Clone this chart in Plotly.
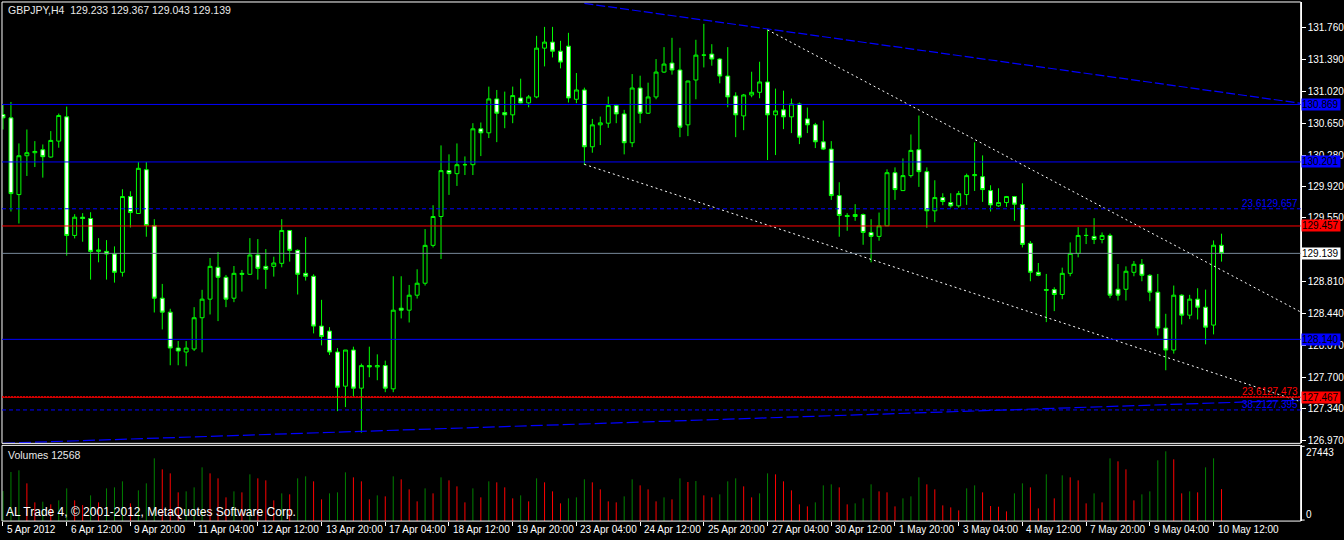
import plotly.graph_objects as go

# ---------------- data ----------------
symbol = "GBPJPY,H4"
tick_idx = list(range(0, 153, 8))
tick_labels = ["5 Apr 2012", "6 Apr 12:00", "9 Apr 20:00", "11 Apr 04:00", "12 Apr 12:00",
               "13 Apr 20:00", "17 Apr 04:00", "18 Apr 12:00", "19 Apr 20:00", "23 Apr 04:00",
               "24 Apr 12:00", "25 Apr 20:00", "27 Apr 04:00", "30 Apr 12:00", "1 May 20:00",
               "3 May 04:00", "4 May 12:00", "7 May 20:00", "9 May 04:00", "10 May 12:00"]

opens = [130.752, 130.713, 129.822, 130.273, 130.308, 130.343, 130.258, 130.443, 130.725, 129.347,
         129.559, 129.544, 129.162, 129.162, 129.131, 128.919, 129.799, 129.602, 130.111, 129.463,
         128.618, 128.456, 128.039, 127.993, 128.028, 128.391, 128.607, 128.977, 128.861, 128.618,
         128.907, 128.896, 129.120, 128.988, 128.988, 129.023, 129.405, 129.174, 128.907, 128.873,
         128.294, 128.236, 127.993, 127.596, 128.016, 127.573, 127.835, 127.820, 127.835, 127.565,
         128.502, 128.479, 128.653, 128.792, 129.232, 129.567, 130.100, 130.065, 130.169, 130.169,
         130.586, 130.539, 130.933, 130.775, 130.748, 130.944, 130.887, 130.956, 131.523, 131.593,
         131.488, 131.546, 130.929, 131.037, 130.377, 130.632, 130.651, 130.856, 130.759, 130.424,
         131.060, 130.767, 130.956, 131.245, 131.350, 131.269, 130.632, 131.153, 131.442, 131.454,
         131.396, 131.199, 130.968, 130.736, 130.979, 131.010, 131.130, 130.748, 130.806, 130.725,
         130.875, 130.701, 130.632, 130.435, 130.350, 129.810, 129.579, 129.567, 129.590, 129.382,
         129.336, 129.459, 130.076, 129.868, 130.042, 130.343, 130.088, 129.633, 129.787, 129.729,
         129.691, 129.822, 130.042, 130.030, 129.868, 129.691, 129.729, 129.799, 129.706, 129.255,
         128.919, 128.718, 128.718, 128.661, 128.907, 129.139, 129.347, 129.336, 129.301, 129.347,
         128.722, 128.722, 128.919, 129.012, 128.884, 128.688, 128.271, 128.016, 128.653, 128.421,
         128.607, 128.514, 128.306, 129.233]
highs = [130.867, 130.898, 130.416, 130.578, 130.443, 130.404, 130.559, 130.763, 130.844, 129.594,
         129.606, 129.617, 129.316, 129.293, 129.220, 129.884, 129.860, 130.200, 130.200, 129.536,
         128.784, 128.495, 128.120, 128.120, 128.514, 128.715, 129.085, 129.154, 128.888, 128.992,
         128.946, 129.316, 129.305, 129.189, 129.100, 129.536, 129.405, 129.185, 129.328, 128.896,
         128.599, 128.282, 128.039, 128.016, 128.055, 127.858, 128.055, 127.966, 127.893, 128.873,
         128.873, 128.772, 128.954, 129.421, 129.698, 130.393, 130.289, 130.416, 130.265, 130.651,
         130.659, 131.076, 131.037, 131.018, 131.076, 131.168, 130.979, 131.666, 131.770, 131.770,
         131.608, 131.701, 131.234, 131.064, 130.701, 130.728, 130.960, 130.875, 130.806, 131.222,
         131.203, 131.122, 131.396, 131.535, 131.643, 131.527, 131.145, 131.620, 131.805, 131.569,
         131.407, 131.535, 131.010, 130.991, 131.249, 131.365, 131.735, 131.053, 131.029, 130.937,
         130.891, 130.833, 130.655, 130.682, 130.443, 129.965, 129.606, 129.710, 129.602, 129.536,
         129.613, 130.115, 130.138, 130.242, 130.520, 130.740, 130.138, 129.988, 129.837, 129.837,
         129.864, 130.065, 130.428, 130.277, 129.930, 129.895, 129.806, 129.806, 129.953, 129.282,
         129.027, 128.900, 128.745, 128.973, 129.266, 129.444, 129.432, 129.548, 129.382, 129.370,
         129.015, 128.988, 129.050, 129.073, 128.896, 128.900, 128.437, 128.765, 128.664, 128.657,
         128.734, 128.718, 129.289, 129.367]
lows = [130.578, 129.625, 129.486, 130.038, 130.142, 130.019, 130.250, 130.366, 129.112, 129.313,
        129.274, 128.834, 129.035, 128.834, 128.799, 128.869, 129.440, 129.600, 129.332, 128.452,
        128.255, 127.839, 127.839, 127.827, 128.005, 127.989, 128.429, 128.352, 128.514, 128.572,
        128.695, 128.888, 128.834, 128.726, 128.869, 128.977, 129.043, 128.661, 128.823, 128.209,
        128.070, 127.958, 127.306, 127.353, 127.476, 127.056, 127.700, 127.665, 127.526, 127.526,
        128.383, 128.336, 128.614, 128.765, 129.208, 129.073, 129.818, 129.922, 130.049, 130.049,
        130.269, 130.478, 130.431, 130.593, 130.651, 130.883, 130.836, 130.941, 131.311, 131.415,
        131.288, 130.891, 130.883, 130.165, 130.308, 130.397, 130.597, 130.651, 130.289, 130.373,
        130.651, 130.759, 130.929, 131.234, 131.215, 130.489, 130.501, 130.929, 131.299, 131.319,
        131.114, 130.836, 130.489, 130.570, 130.952, 130.941, 130.223, 130.281, 130.582, 130.536,
        130.408, 130.536, 130.362, 130.339, 129.760, 129.332, 129.401, 129.517, 129.239, 129.035,
        129.286, 129.459, 129.760, 129.868, 130.019, 129.911, 129.436, 129.502, 129.698, 129.671,
        129.671, 129.702, 129.864, 129.737, 129.625, 129.679, 129.679, 129.517, 129.208, 128.815,
        128.873, 128.340, 128.468, 128.607, 128.873, 129.093, 129.247, 129.247, 129.255, 128.618,
        128.591, 128.591, 128.873, 128.815, 128.583, 128.186, 127.781, 127.974, 128.313, 128.375,
        128.371, 128.082, 128.198, 129.043]
closes = [130.713, 129.833, 130.273, 130.308, 130.323, 130.262, 130.451, 130.740, 129.347, 129.559,
          129.544, 129.162, 129.178, 129.131, 128.919, 129.799, 129.613, 130.127, 129.463, 128.618,
          128.456, 128.039, 128.005, 128.039, 128.391, 128.607, 128.988, 128.861, 128.607, 128.907,
          128.896, 129.120, 128.965, 128.954, 129.027, 129.405, 129.174, 128.896, 128.873, 128.294,
          128.174, 127.993, 127.584, 128.016, 127.573, 127.835, 127.820, 127.835, 127.573, 128.479,
          128.479, 128.653, 128.792, 129.232, 129.567, 130.100, 130.065, 130.169, 130.169, 130.586,
          130.539, 130.933, 130.767, 130.748, 130.972, 130.887, 130.956, 131.523, 131.593, 131.488,
          131.361, 130.944, 131.037, 130.377, 130.632, 130.655, 130.856, 130.759, 130.424, 131.060,
          130.767, 130.956, 131.245, 131.338, 131.269, 130.605, 131.141, 131.442, 131.442, 131.396,
          131.199, 130.956, 130.748, 130.979, 131.010, 131.130, 130.748, 130.794, 130.725, 130.875,
          130.489, 130.632, 130.435, 130.350, 129.810, 129.579, 129.567, 129.590, 129.382, 129.336,
          129.459, 130.076, 129.880, 130.042, 130.335, 130.088, 129.633, 129.787, 129.741, 129.691,
          129.833, 130.042, 130.053, 129.880, 129.702, 129.729, 129.799, 129.710, 129.243, 128.919,
          128.884, 128.711, 128.661, 128.907, 129.139, 129.347, 129.347, 129.301, 129.347, 128.653,
          128.653, 128.931, 129.012, 128.884, 128.688, 128.271, 128.016, 128.653, 128.421, 128.607,
          128.514, 128.282, 129.233, 129.139]
volumes = [11817, 19301, 19958, 14837, 7353, 7615, 6565, 8141, 12867, 8141,
           6302, 10110, 7353, 12867, 13261, 15625, 6959, 12080, 14837, 24684,
           20352, 18776, 11292, 11686, 13261, 21139, 18776, 16806, 9322, 11686,
           11292, 18382, 16806, 16019, 8141, 10898, 10504, 16806, 17594, 15625,
           8535, 10898, 11292, 19170, 17200, 15625, 8535, 10110, 9716, 17594,
           16413, 12474, 7747, 12867, 10898, 17200, 16019, 13655, 7353, 12867,
           9322, 15625, 15231, 13261, 8928, 10110, 7747, 16806, 15231, 11686,
           6959, 8928, 9322, 16413, 15231, 12474, 7747, 7353, 9716, 16413,
           14049, 12474, 7747, 9322, 8535, 16806, 15362, 15756, 10110, 9322,
           10504, 15625, 16806, 13655, 9322, 10898, 18776, 18382, 15625, 12080,
           6565, 5777, 7353, 14049, 14443, 13261, 6565, 6959, 8928, 14443,
           11686, 11292, 5777, 8928, 9716, 17200, 14443, 12474, 6171, 5383,
           4202, 12867, 14049, 11292, 5909, 5646, 3808, 10898, 14837, 13261,
           4989, 18382, 8928, 17988, 17200, 16019, 6959, 10898, 7353, 24684,
           23503, 20352, 8141, 10504, 11686, 23897, 27443, 24291, 10898, 11686,
           11292, 21139, 24684, 12568]
vol_max_label = 27443

# 129.180 is hidden behind the bid label in the reference, so it is not listed
price_ticks = [131.760, 131.390, 131.020, 130.650, 130.280, 129.920, 129.550,
               128.810, 128.440, 128.070, 127.700, 127.340, 126.970]

# horizontal price lines with axis labels
hline_prices = [130.869, 130.201, 129.457, 128.140, 127.467]
hline_colors = ["#0000FF", "#0000FF", "#FF0000", "#0000FF", "#FF0000"]
bid_price = closes[-1]

# fibonacci levels
fibo_prices = [129.657, 127.473, 127.32]
fibo_texts = ["23.6129.657", "23.6127.473", "38.2127.395"]
fibo_colors = ["#0000FF", "#FF0000", "#0000FF"]
fibo_dash = ["4px,3px", "2px,1px", "4px,3px"]

# trend lines (bar index, price)
blue_top_x, blue_top_y = [73, 163], [132.043, 130.882]
blue_bot_x, blue_bot_y = [0, 163], [126.933, 127.434]
white_top_x, white_top_y = [96, 163], [131.735, 128.455]
white_bot_x, white_bot_y = [73, 163], [130.173, 127.413]

# ---------------- layout helpers (pixels) ----------------
W, H = 1344, 540
PX_L, PX_R = 2, 1306.5
MAIN_T, MAIN_B = 2, 445
VOL_T, VOL_B = 447, 523


def fx(px):
    return px / W


def fy(py):
    return 1 - py / H


FONT = "Liberation Sans, Arial, sans-serif"
n = len(opens)
idx = list(range(n))

fig = go.Figure()

fig.add_trace(go.Candlestick(
    x=idx, open=opens, high=highs, low=lows, close=closes,
    increasing=dict(line=dict(color="#00FF00", width=1), fillcolor="#000000"),
    decreasing=dict(line=dict(color="#00FF00", width=1), fillcolor="#FFFFFF"),
    whiskerwidth=0, hoverinfo="skip", xaxis="x", yaxis="y", showlegend=False))

# trend lines
for tx, ty, col, dash, wd in [
    (blue_top_x, blue_top_y, "#0000FF", "9px,3px", 1.2),
    (blue_bot_x, blue_bot_y, "#0000FF", "12px,4px", 1.2),
    (white_top_x, white_top_y, "#FFFFFF", "2px,3px", 1),
    (white_bot_x, white_bot_y, "#FFFFFF", "2px,3px", 1),
]:
    fig.add_trace(go.Scatter(x=tx, y=ty, mode="lines", line=dict(color=col, width=wd, dash=dash),
                             hoverinfo="skip", showlegend=False, xaxis="x", yaxis="y"))

# volumes
gx, gy, rx, ry = [], [], [], []
for i, v in enumerate(volumes):
    up = i == 0 or v > volumes[i - 1]
    if up:
        gx += [i, i, None]
        gy += [0, v, None]
    else:
        rx += [i, i, None]
        ry += [0, v, None]
fig.add_trace(go.Scatter(x=gx, y=gy, mode="lines", line=dict(color="#008000", width=1),
                         hoverinfo="skip", showlegend=False, xaxis="x2", yaxis="y2"))
fig.add_trace(go.Scatter(x=rx, y=ry, mode="lines", line=dict(color="#FF0000", width=1),
                         hoverinfo="skip", showlegend=False, xaxis="x2", yaxis="y2"))

x_lo = (PX_L - 3) / 8
x_hi = (PX_R - 3) / 8
p_per_px = 1 / 86.4
y_hi = 129.139 + (254.3 - MAIN_T) * p_per_px
y_lo = 129.139 - (MAIN_B - 254.3) * p_per_px
v_hi = vol_max_label * (VOL_B - VOL_T) / 70.0

fig.update_layout(
    width=W, height=H, margin=dict(l=0, r=0, t=0, b=0),
    paper_bgcolor="#000000", plot_bgcolor="#000000",
    showlegend=False, hovermode=False,
    xaxis=dict(domain=[fx(PX_L), fx(PX_R)], range=[x_lo, x_hi], anchor="y",
               showgrid=False, zeroline=False, showticklabels=False, ticks="",
               showline=False, rangeslider=dict(visible=False), fixedrange=True),
    xaxis2=dict(domain=[fx(PX_L), fx(PX_R)], range=[x_lo, x_hi], anchor="y2", matches="x",
                showgrid=False, zeroline=False, showticklabels=False, ticks="outside",
                tickvals=tick_idx, ticklen=4, tickcolor="#FFFFFF", tickwidth=1,
                showline=False, fixedrange=True),
    yaxis=dict(domain=[fy(MAIN_B), fy(MAIN_T)], range=[y_lo, y_hi], anchor="x", side="right",
               tickvals=price_ticks, ticktext=["%.3f" % t for t in price_ticks],
               ticks="outside", ticklen=4, tickcolor="#FFFFFF", tickwidth=1,
               tickfont=dict(family=FONT, size=10, color="#FFFFFF"),
               showline=True, linecolor="#FFFFFF", linewidth=1,
               showgrid=False, zeroline=False, fixedrange=True),
    yaxis2=dict(domain=[fy(VOL_B), fy(VOL_T)], range=[0, v_hi], anchor="x2", side="right",
                showticklabels=False, ticks="", showline=True, linecolor="#FFFFFF", linewidth=1,
                showgrid=False, zeroline=False, fixedrange=True),
)

shapes = []
# frames
shapes.append(dict(type="rect", xref="paper", yref="paper", x0=fx(PX_L), x1=fx(PX_R),
                   y0=fy(MAIN_B), y1=fy(MAIN_T), line=dict(color="#FFFFFF", width=1)))
shapes.append(dict(type="rect", xref="paper", yref="paper", x0=fx(PX_L), x1=fx(PX_R),
                   y0=fy(VOL_B), y1=fy(VOL_T), line=dict(color="#FFFFFF", width=1)))
# volume axis ticks
for py in (VOL_T + 1, VOL_B - 1):
    shapes.append(dict(type="line", xref="paper", yref="paper", x0=fx(PX_R), x1=fx(PX_R + 4),
                       y0=fy(py), y1=fy(py), line=dict(color="#FFFFFF", width=1)))
# fibo levels
for p, c, d in zip(fibo_prices, fibo_colors, fibo_dash):
    shapes.append(dict(type="line", xref="paper", yref="y", x0=fx(PX_L), x1=fx(PX_R),
                       y0=p, y1=p, line=dict(color=c, width=1, dash=d)))
# horizontal lines
for p, c in zip(hline_prices, hline_colors):
    shapes.append(dict(type="line", xref="paper", yref="y", x0=fx(PX_L), x1=fx(PX_R),
                       y0=p, y1=p, line=dict(color=c, width=1)))
shapes.append(dict(type="line", xref="paper", yref="y", x0=fx(PX_L), x1=fx(PX_R),
                   y0=bid_price, y1=bid_price, line=dict(color="#778899", width=1)))
fig.update_layout(shapes=shapes)

ann = []
# price label boxes
for p, c in zip(hline_prices + [bid_price], hline_colors + ["#FFFFFF"]):
    ann.append(dict(xref="paper", yref="y", x=fx(PX_R + 0.5), y=p, xanchor="left", yanchor="middle",
                    text="%.3f" % p, showarrow=False, bgcolor=c, borderpad=0, width=38, height=11,
                    align="left", font=dict(family=FONT, size=10, color="#000000")))
# fibo texts
for p, t, c in zip(fibo_prices, fibo_texts, fibo_colors):
    ann.append(dict(xref="paper", yref="y", x=fx(1305), y=p, xanchor="right", yanchor="bottom",
                    text=t, showarrow=False, borderpad=0, yshift=-1,
                    font=dict(family=FONT, size=10, color=c)))
# x labels
for i, t in zip(tick_idx, tick_labels):
    ann.append(dict(xref="x2", yref="paper", x=i, y=fy(531), xanchor="left", yanchor="middle",
                    xshift=2, text=t, showarrow=False, font=dict(family=FONT, size=10, color="#FFFFFF")))
# volume axis labels
ann.append(dict(xref="paper", yref="paper", x=fx(1310), y=fy(454), xanchor="left", yanchor="middle",
                text=str(vol_max_label), showarrow=False, font=dict(family=FONT, size=10, color="#FFFFFF")))
ann.append(dict(xref="paper", yref="paper", x=fx(1310), y=fy(516), xanchor="left", yanchor="middle",
                text="0", showarrow=False, font=dict(family=FONT, size=10, color="#FFFFFF")))
# header texts
header = "%s\u00a0\u00a0%.3f %.3f %.3f %.3f" % (symbol, opens[-1], highs[-1], lows[-1], closes[-1])
ann.append(dict(xref="paper", yref="paper", x=fx(6), y=fy(10), xanchor="left", yanchor="middle",
                text=header, showarrow=False, font=dict(family=FONT, size=10.5, color="#E8E8E8")))
ann.append(dict(xref="paper", yref="paper", x=fx(6), y=fy(457), xanchor="left", yanchor="middle",
                text="Volumes %d" % volumes[-1], showarrow=False,
                font=dict(family=FONT, size=10.5, color="#E8E8E8")))
ann.append(dict(xref="paper", yref="paper", x=fx(4), y=fy(514), xanchor="left", yanchor="middle",
                text="AL Trade 4, \u00a9 2001-2012, MetaQuotes Software Corp.", showarrow=False,
                font=dict(family=FONT, size=12, color="#FFFFFF")))
fig.update_layout(annotations=ann)

fig.write_html("out.html", config={"displayModeBar": False, "staticPlot": True},
               post_script="document.body.style.margin='0';document.body.style.overflow='hidden';")
